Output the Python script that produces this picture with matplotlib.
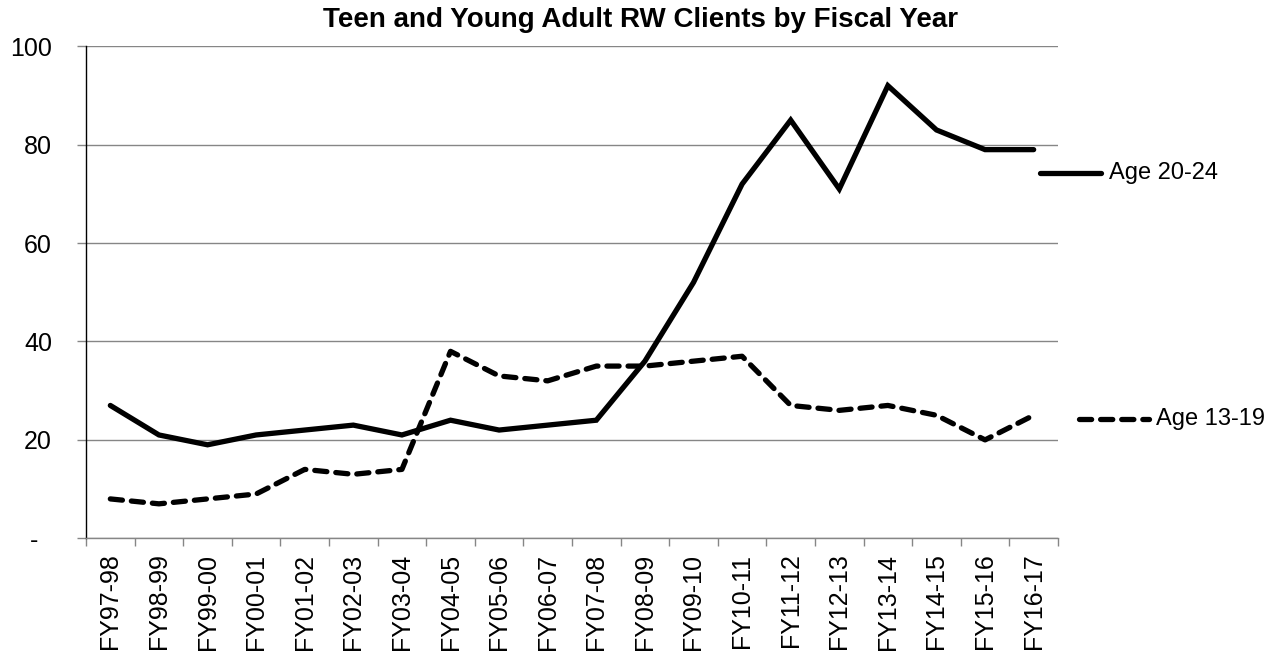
import matplotlib
matplotlib.use("Agg")
import matplotlib.pyplot as plt
from matplotlib.lines import Line2D
import numpy as np

plt.rcParams['font.family'] = ['Liberation Sans', 'DejaVu Sans']

years = ["FY97-98", "FY98-99", "FY99-00", "FY00-01", "FY01-02", "FY02-03", "FY03-04",
         "FY04-05", "FY05-06", "FY06-07", "FY07-08", "FY08-09", "FY09-10", "FY10-11",
         "FY11-12", "FY12-13", "FY13-14", "FY14-15", "FY15-16", "FY16-17"]
age_20_24 = [27, 21, 19, 21, 22, 23, 21, 24, 22, 23, 24, 36, 52, 72, 85, 71, 92, 83, 79, 79]
age_13_19 = [8, 7, 8, 9, 14, 13, 14, 38, 33, 32, 35, 35, 36, 37, 27, 26, 27, 25, 20, 25]
y_ticks = [0, 20, 40, 60, 80, 100]
y_labels = ["-  ", "20", "40", "60", "80", "100"]

LW = 3.8
DASH = (0, (2.3, 1.7))

fig = plt.figure(figsize=(12.88, 6.59), dpi=100)
ax = fig.add_axes([0.0668, 0.1832, 0.7546, 0.7465])

x = np.arange(len(years)) + 0.5
ax.plot(x, age_20_24, color='black', lw=LW, solid_capstyle='round', solid_joinstyle='miter')
ax.plot(x, age_13_19, color='black', lw=LW, linestyle=DASH,
        dash_capstyle='round', dash_joinstyle='round')

ax.set_xlim(0, len(years))
ax.set_ylim(0, 100)

# y axis: gridlines and outward ticks
ax.set_yticks(y_ticks)
ax.set_yticklabels(y_labels, fontsize=18)
ax.yaxis.grid(True, color='#868686', lw=1.0)
ax.set_axisbelow(True)
ax.tick_params(axis='y', length=6.5, width=1.0, color='#868686', pad=18)

# x axis: ticks between categories, labels at centres
ax.set_xticks(np.arange(len(years) + 1))
ax.set_xticklabels([])
ax.set_xticks(x, minor=True)
ax.set_xticklabels(years, minor=True, rotation=90, fontsize=18)
ax.tick_params(axis='x', which='major', length=6, width=1.0, color='#868686')
ax.tick_params(axis='x', which='minor', length=0, pad=11)

for s in ['top', 'right']:
    ax.spines[s].set_visible(False)
ax.spines['left'].set_color('black')
ax.spines['left'].set_linewidth(1.0)
ax.spines['bottom'].set_color('#868686')
ax.spines['bottom'].set_linewidth(1.0)

fig.text(0.4973, 0.969, "Teen and Young Adult RW Clients by Fiscal Year",
         ha='center', va='center', fontsize=20, fontweight='bold')

# series keys at the right
W, H = 1288, 659
fig.add_artist(Line2D([1040 / W, 1101 / W], [1 - 173 / H, 1 - 173 / H], color='black',
                      lw=LW, solid_capstyle='round'))
fig.text(1109 / W, 1 - 173 / H, "Age 20-24", fontsize=17, va='center', ha='left')
fig.add_artist(Line2D([1079 / W, 1149 / W], [1 - 419 / H, 1 - 419 / H], color='black',
                      lw=LW, linestyle=DASH, dash_capstyle='round'))
fig.text(1156 / W, 1 - 419 / H, "Age 13-19", fontsize=17, va='center', ha='left')

fig.savefig("out.png", dpi=100)
